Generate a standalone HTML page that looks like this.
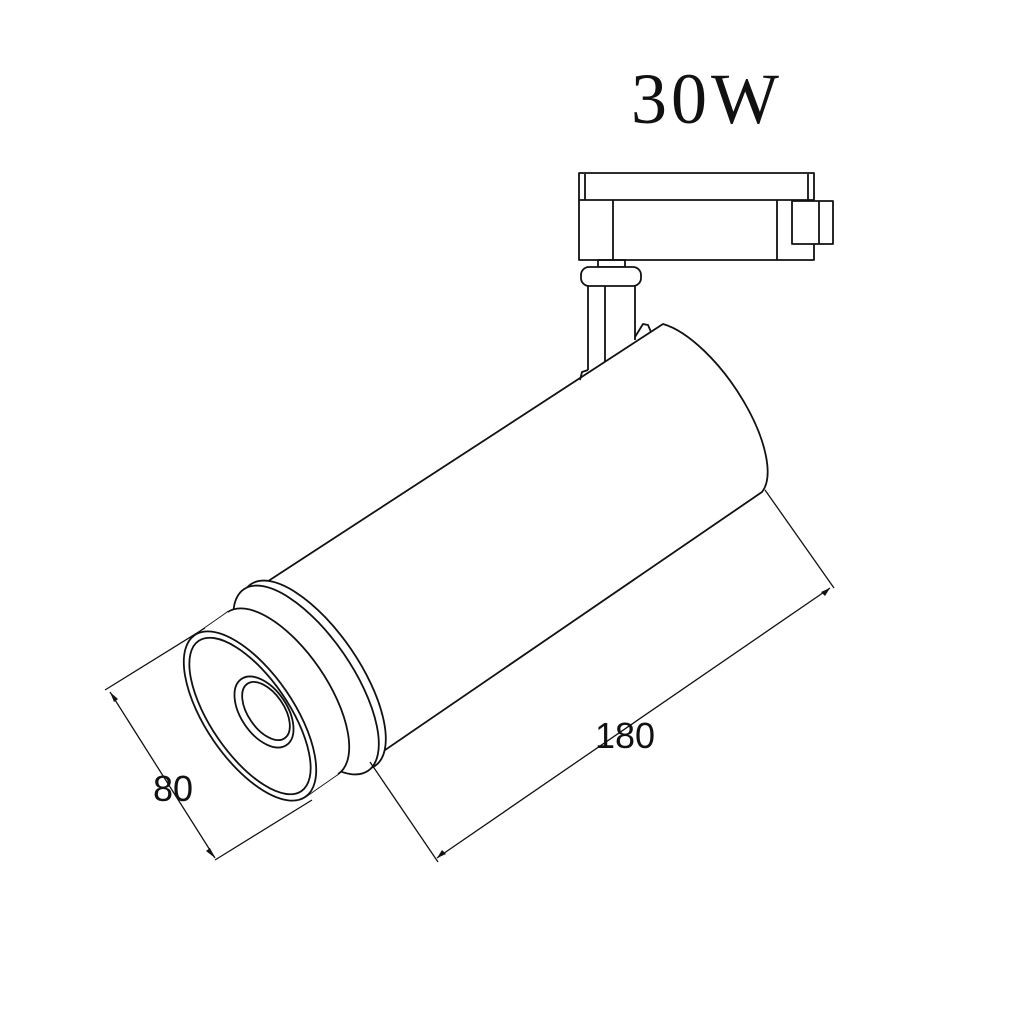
<!DOCTYPE html>
<html><head><meta charset="utf-8"><style>
html,body{margin:0;padding:0;background:#fff;width:1024px;height:1024px;overflow:hidden}
</style></head><body>
<svg width="1024" height="1024" viewBox="0 0 1024 1024" xmlns="http://www.w3.org/2000/svg">
<g fill="none" stroke="#111" stroke-width="1.8" stroke-linejoin="round">
<!-- adapter -->
<rect x="579" y="173" width="235" height="87" fill="#fff"/>
<line x1="579" y1="200" x2="814" y2="200"/>
<line x1="585" y1="174" x2="585" y2="200"/>
<line x1="808" y1="174" x2="808" y2="200"/>
<line x1="613" y1="200" x2="613" y2="260"/>
<line x1="777" y1="200" x2="777" y2="260"/>
<rect x="792" y="201" width="41" height="43" fill="#fff"/>
<line x1="819" y1="201" x2="819" y2="244"/>
<rect x="598" y="260" width="27" height="7"/>
<rect x="581" y="267" width="60" height="19" rx="8" fill="#fff"/>
<line x1="588" y1="286" x2="588" y2="370"/>
<line x1="605" y1="286" x2="605" y2="365"/>
<line x1="635" y1="286" x2="635" y2="340"/>
<path d="M635 337 L643 324 L648 325 L651 332"/>
<!-- body -->
<path d="M663 324 A103 42 55.6 0 1 762 492 L372 759 L256 589 Z" fill="#fff"/>
<path d="M588 370 L582 372 L580 380"/>
<!-- flange -->
<ellipse cx="313" cy="675" rx="110" ry="46" transform="rotate(55.6 313 675)" fill="#fff"/>
<ellipse cx="306" cy="680" rx="110" ry="46" transform="rotate(55.6 306 680)" fill="#fff"/>
<!-- bezel -->
<path d="M195 635 L228 612 L338 774 L305 797 Z" fill="#fff" stroke="none"/>
<ellipse cx="283" cy="693" rx="98" ry="44" transform="rotate(55.6 283 693)" fill="#fff"/>
<line x1="195" y1="635" x2="228" y2="612"/>
<line x1="305" y1="797" x2="338" y2="774"/>
<path d="M195 635 L228 612 L338 774 L305 797 Z" fill="#fff" stroke="none"/>
<ellipse cx="250" cy="716" rx="98" ry="44" transform="rotate(55.6 250 716)" fill="#fff"/>
<ellipse cx="250" cy="716" rx="91" ry="39" transform="rotate(55.6 250 716)"/>
<ellipse cx="264" cy="712" rx="40" ry="23" transform="rotate(55.6 264 712)"/>
<ellipse cx="266" cy="711" rx="33" ry="18" transform="rotate(55.6 266 711)"/>
<!-- dimensions -->
<g stroke-width="1.3">
<line x1="105" y1="690" x2="205" y2="628"/>
<line x1="215" y1="860" x2="312" y2="800"/>
<line x1="110" y1="692" x2="215" y2="858"/>
<line x1="765" y1="490" x2="834" y2="588"/>
<line x1="370" y1="762" x2="438" y2="862"/>
<line x1="437" y1="858" x2="830" y2="588"/>
</g>
<g fill="#111" stroke="none">
<polygon points="110,692 118,699 114,702"/>
<polygon points="215,858 206,851 210,848"/>
<polygon points="437,858 442,850 446,854"/>
<polygon points="830,588 825,596 821,592"/>
</g>
</g>
<text x="707" y="123" font-family="'Liberation Serif',serif" font-size="72" text-anchor="middle" letter-spacing="4" fill="#111">30W</text>
<text x="625" y="748" font-family="'Liberation Sans',sans-serif" font-size="36" text-anchor="middle" fill="#111">180</text>
<text x="173" y="801" font-family="'Liberation Sans',sans-serif" font-size="36" text-anchor="middle" fill="#111">80</text>
</svg>
</body></html>
